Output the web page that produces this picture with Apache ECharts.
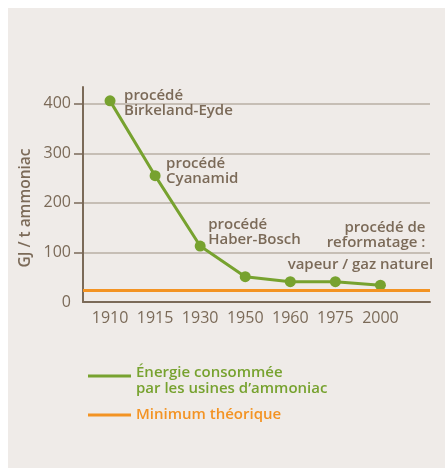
<!DOCTYPE html>
<html>
<head>
<meta charset="utf-8">
<script src="https://cdn.jsdelivr.net/npm/echarts@6/dist/echarts.min.js"></script>
<style>
  html, body { margin: 0; padding: 0; background: #ffffff; }
  #chart {
    position: absolute;
    left: 8px;
    top: 8px;
    width: 437px;
    height: 460px;
    background: #efebe8;
  }
</style>
</head>
<body>
<div id="chart"></div>
<script>
var years = ['1910', '1915', '1930', '1950', '1960', '1975', '2000'];
var energie = [406, 255, 113, 51, 41, 41, 34];
var minimum = 24;
var yTicks = [100, 200, 300, 400];
var yLabels = [0, 100, 200, 300, 400];
var notes = ['procédé\nBirkeland-Eyde', 'procédé\nCyanamid', 'procédé\nHaber-Bosch', '', '', 'vapeur / gaz naturel', 'procédé de\nreformatage :'];
var nomEnergie = 'Énergie consommée\npar les usines d’ammoniac';
var nomMinimum = 'Minimum théorique';

var brown = '#7b6a58';
var green = '#77a22f';
var orange = '#f39323';
var font = '"Open Sans", sans-serif';

// where each note sits next to its point
var noteStyle = [
  { align: 'left', offset: [14, 2] },
  { align: 'left', offset: [11, -4] },
  { align: 'left', offset: [8, -14] },
  null,
  null,
  { align: 'center', offset: [25, -17] },
  { align: 'right', offset: [45, -50] }
];

var points = energie.map(function (v, i) {
  var item = { value: [i, v] };
  if (noteStyle[i]) {
    item.label = {
      show: true,
      formatter: notes[i],
      position: 'inside',
      align: noteStyle[i].align,
      verticalAlign: 'middle',
      offset: noteStyle[i].offset,
      color: brown,
      fontFamily: font,
      fontWeight: 600,
      fontSize: 15,
      lineHeight: 15
    };
  }
  return item;
});

var chart = echarts.init(document.getElementById('chart'));
chart.setOption({
  animation: false,
  grid: { left: 75, right: 15, top: 79, bottom: 166, containLabel: false },
  legend: {
    orient: 'vertical',
    left: 75,
    top: 343,
    icon: 'rect',
    itemWidth: 43,
    itemHeight: 3,
    itemGap: 11,
    formatter: function (name) {
      if (name === nomEnergie) {
        return '{s| }\n{g|' + name.split('\n').join('}\n{g|') + '}';
      }
      return '{o|' + name + '}';
    },
    textStyle: {
      fontFamily: font,
      fontWeight: 600,
      fontSize: 15,
      rich: {
        s: { lineHeight: 10, fontSize: 8 },
        g: { color: green, fontFamily: font, fontWeight: 600, fontSize: 15, lineHeight: 16 },
        o: { color: orange, fontFamily: font, fontWeight: 600, fontSize: 15, lineHeight: 16 }
      }
    },
    data: [nomEnergie, nomMinimum]
  },
  xAxis: {
    type: 'value',
    min: -0.6,
    max: 7.1,
    axisLine: { show: true, onZero: false, lineStyle: { color: brown, width: 2 } },
    axisTick: { show: false },
    splitLine: { show: false },
    axisLabel: {
      customValues: [0, 1, 2, 3, 4, 5, 6],
      formatter: function (v) { return years[Math.round(v)]; },
      color: brown,
      fontFamily: font,
      fontSize: 16,
      margin: 8
    }
  },
  yAxis: {
    type: 'value',
    min: 0,
    max: 434,
    name: 'GJ / t ammoniac',
    nameLocation: 'middle',
    nameGap: 49,
    nameMoveOverlap: false,
    nameTextStyle: { color: brown, fontFamily: font, fontWeight: 600, fontSize: 15.5, padding: [0, 27, 0, 0] },
    axisLine: { show: true, onZero: false, lineStyle: { color: brown, width: 2 } },
    axisTick: { show: true, customValues: yTicks, length: 9, lineStyle: { color: brown, width: 1.5 } },
    splitLine: { show: true, lineStyle: { color: '#b9afa5', width: 1.5 } },
    axisLabel: {
      customValues: yLabels,
      color: brown,
      fontFamily: font,
      fontSize: 16,
      margin: 12
    }
  },
  series: [
    {
      name: nomEnergie,
      type: 'line',
      data: points,
      symbol: 'circle',
      symbolSize: 11,
      itemStyle: { color: green },
      lineStyle: { color: green, width: 3 },
      z: 3
    },
    {
      name: nomMinimum,
      type: 'line',
      data: [],
      itemStyle: { color: orange },
      markLine: {
        silent: true,
        symbol: 'none',
        label: { show: false },
        lineStyle: { color: orange, width: 3, type: 'solid' },
        data: [{ yAxis: minimum }]
      }
    }
  ]
});
</script>
</body>
</html>
